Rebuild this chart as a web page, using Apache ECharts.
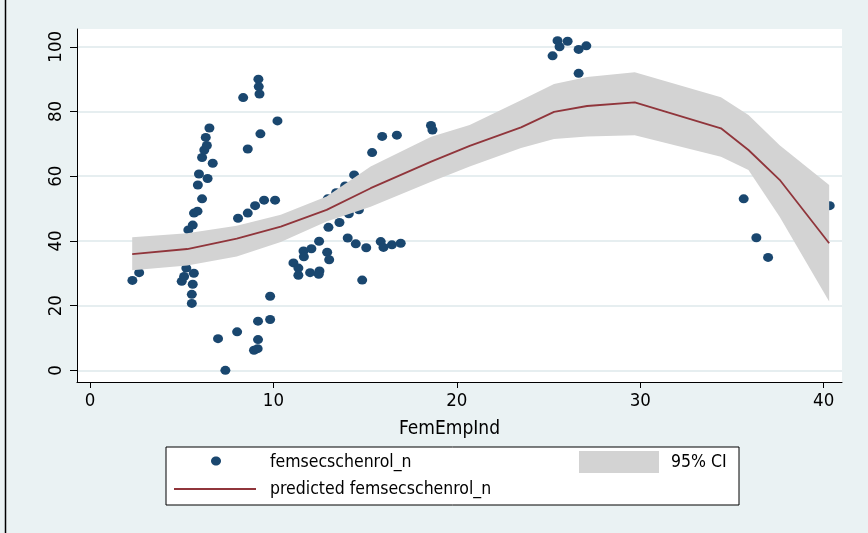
<!DOCTYPE html>
<html>
<head>
<meta charset="utf-8">
<script src="https://cdn.jsdelivr.net/npm/echarts@6/dist/echarts.min.js"></script>
<style>
html,body{margin:0;padding:0;background:#EAF2F3;}
#c{width:868px;height:533px;}
</style>
</head>
<body>
<div id="c"></div>
<script>
// Scatter observations: FemEmpInd (x) and femsecschenrol_n (y)
const obsX = [2.31, 2.68, 5.00, 5.13, 5.25, 5.66, 5.60, 5.55, 5.55, 5.36, 5.60, 5.67, 5.86, 6.11, 5.88, 6.41, 5.94, 6.69, 6.11, 6.23, 6.37, 6.31, 6.51, 8.35, 9.18, 9.20, 9.24, 8.60, 9.29, 10.22, 8.07, 8.60, 9.00, 9.49, 10.09, 6.98, 7.38, 8.02, 8.94, 9.14, 9.16, 9.16, 9.82, 9.82, 11.09, 11.36, 11.36, 11.64, 12.07, 11.66, 12.00, 12.51, 12.47, 12.49, 12.93, 13.04, 13.00, 13.60, 14.11, 14.05, 14.49, 15.06, 15.85, 16.00, 16.46, 16.94, 14.84, 12.96, 13.42, 13.91, 14.40, 14.66, 15.38, 15.93, 16.73, 18.59, 18.67, 25.49, 25.60, 26.04, 25.22, 26.64, 27.06, 26.64, 35.64, 36.33, 36.97, 40.33];
const obsY = [27.8, 30.2, 27.5, 29.0, 31.6, 30.0, 26.6, 23.5, 20.7, 43.4, 44.9, 48.6, 49.2, 53.0, 57.3, 59.3, 60.7, 64.0, 65.8, 68.1, 69.5, 72.0, 74.9, 84.3, 90.0, 87.7, 85.4, 68.4, 73.1, 77.1, 47.0, 48.6, 50.9, 52.6, 52.6, 9.8, 0.0, 11.9, 6.2, 6.7, 9.5, 15.2, 15.7, 22.9, 33.2, 31.6, 29.4, 36.9, 37.6, 35.1, 30.2, 30.7, 29.7, 39.9, 36.5, 34.2, 44.2, 45.7, 48.4, 40.9, 39.1, 37.9, 39.8, 38.0, 38.8, 39.3, 27.9, 53.0, 54.9, 57.0, 60.4, 49.6, 67.3, 72.3, 72.7, 75.7, 74.3, 101.9, 100.0, 101.7, 97.2, 99.2, 100.3, 91.8, 53.0, 41.0, 34.9, 50.9];

// Fitted curve and 95% CI
const fitX     = [2.3, 5.3, 8.0, 10.4, 12.9, 15.3, 18.6, 20.7, 23.5, 25.3, 27.1, 29.7, 34.4, 35.9, 37.6, 40.3];
const fitY     = [35.9, 37.5, 40.7, 44.4, 49.6, 56.3, 64.5, 69.4, 75.1, 79.9, 81.7, 82.8, 74.8, 68.1, 58.9, 39.3];
const ciUpper  = [41.1, 42.4, 44.7, 48.1, 53.7, 63.0, 72.2, 75.8, 83.5, 88.5, 90.7, 92.1, 84.4, 78.9, 69.6, 57.3];
const ciLower  = [30.9, 32.4, 35.2, 39.7, 46.0, 50.6, 58.3, 63.0, 68.7, 71.5, 72.3, 72.7, 66.0, 61.9, 47.5, 21.3];

const xTicks = [0, 10, 20, 30, 40];
const yTicks = [0, 20, 40, 60, 80, 100];

const FONT = '"Liberation Sans Narrow", "DejaVu Sans Condensed", "Liberation Sans", Arial, sans-serif';

const chart = echarts.init(document.getElementById('c'), null, {renderer: 'canvas'});

const scatterData = obsX.map((x, i) => [x, obsY[i]]);
const lineData = fitX.map((x, i) => [x, fitY[i]]);

const option = {
  animation: false,
  backgroundColor: '#EAF2F3',
  grid: {
    left: 77, right: 26, top: 29, bottom: 151,
    show: true, backgroundColor: '#FFFFFF', borderWidth: 0
  },
  xAxis: {
    type: 'value', min: -0.71, max: 41.0,
    name: 'FemEmpInd', nameLocation: 'middle', nameGap: 38,
    nameTextStyle: {fontFamily: FONT, fontSize: 19, color: '#000', padding: [0, 20, 0, 0]},
    axisLine: {show: true, onZero: false, lineStyle: {color: '#000', width: 1}},
    axisTick: {show: true, customValues: xTicks, length: 6, lineStyle: {color: '#000'}},
    axisLabel: {customValues: xTicks, fontFamily: FONT, fontSize: 18.5, color: '#000', margin: 10},
    splitLine: {show: false}
  },
  yAxis: {
    type: 'value', min: -3.6, max: 105.5,
    axisLine: {show: true, onZero: false, lineStyle: {color: '#000', width: 1}},
    axisTick: {show: true, customValues: yTicks, length: 7, lineStyle: {color: '#000'}},
    axisLabel: {customValues: yTicks, rotate: 90, fontFamily: FONT, fontSize: 18.5, color: '#000', margin: 11},
    splitLine: {show: true, lineStyle: {color: '#E6EEF0', width: 2}}
  },
  series: [
    {
      type: 'scatter', name: 'femsecschenrol_n', data: scatterData,
      symbol: 'circle', symbolSize: [10, 9],
      itemStyle: {color: '#1A476F', opacity: 1}, z: 2
    },
    {
      type: 'custom', name: '95% CI', z: 3,
      data: [[fitX[0], ciUpper[0]]],
      renderItem: function (params, api) {
        const pts = [];
        for (let i = 0; i < fitX.length; i++) pts.push(api.coord([fitX[i], ciUpper[i]]));
        for (let i = fitX.length - 1; i >= 0; i--) pts.push(api.coord([fitX[i], ciLower[i]]));
        return {type: 'polygon', shape: {points: pts}, style: {fill: '#D3D3D3', stroke: null}};
      }
    },
    {
      type: 'line', name: 'predicted femsecschenrol_n', data: lineData,
      showSymbol: false, symbol: 'none',
      lineStyle: {color: '#90353B', width: 1.8}, z: 4
    }
  ],
  graphic: [
    {type: 'line', shape: {x1: 5.5, y1: 0, x2: 5.5, y2: 533}, style: {stroke: '#000', lineWidth: 1.5}},
    {type: 'rect', shape: {x: 166, y: 447, width: 573, height: 58},
     style: {fill: '#FFFFFF', stroke: '#000', lineWidth: 1}},
    {type: 'ellipse', shape: {cx: 216, cy: 461, rx: 5, ry: 4.5}, style: {fill: '#1A476F'}},
    {type: 'text', x: 270, y: 462, style: {text: 'femsecschenrol_n', font: '17.5px ' + FONT, fill: '#000', verticalAlign: 'middle'}},
    {type: 'rect', shape: {x: 579, y: 451, width: 80, height: 22}, style: {fill: '#D3D3D3'}},
    {type: 'text', x: 671, y: 462, style: {text: '95% CI', font: '17.5px ' + FONT, fill: '#000', verticalAlign: 'middle'}},
    {type: 'line', shape: {x1: 174, y1: 489, x2: 256, y2: 489}, style: {stroke: '#90353B', lineWidth: 1.8}},
    {type: 'text', x: 270, y: 489, style: {text: 'predicted femsecschenrol_n', font: '17.5px ' + FONT, fill: '#000', verticalAlign: 'middle'}}
  ]
};
chart.setOption(option);
</script>
</body>
</html>
